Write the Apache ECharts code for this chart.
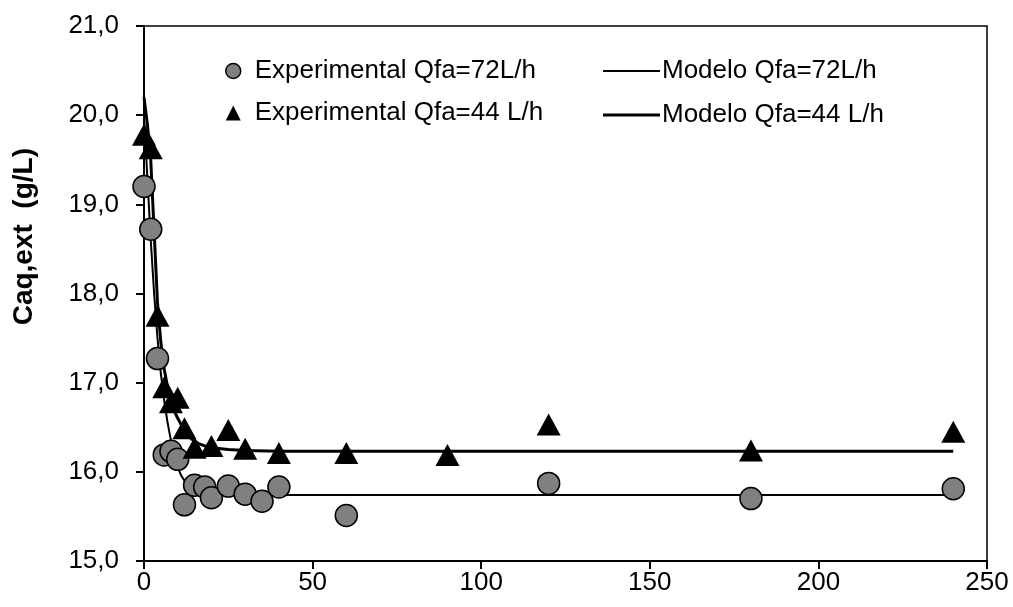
<!DOCTYPE html>
<html>
<head>
<meta charset="utf-8">
<script src="https://cdn.jsdelivr.net/npm/echarts@6/dist/echarts.min.js"></script>
<style>
html,body{margin:0;padding:0;background:#fff;}
#chart{width:1013px;height:607px;}
</style>
</head>
<body>
<div id="chart"></div>
<script>
// ---- data ----
var exp72 = [
  [0, 19.2], [2, 18.72], [4, 17.27], [6, 16.19], [8, 16.23], [10, 16.14],
  [12, 15.63], [15, 15.85], [18, 15.83], [20, 15.71], [25, 15.84], [30, 15.75],
  [35, 15.67], [40, 15.83], [60, 15.51], [120, 15.87], [180, 15.70], [240, 15.81]
];
var exp44 = [
  [0, 19.78], [2, 19.63], [4, 17.75], [6, 16.95], [8, 16.78], [10, 16.83],
  [12, 16.49], [15, 16.27], [20, 16.29], [25, 16.47], [30, 16.26], [40, 16.21],
  [60, 16.21], [90, 16.19], [120, 16.53], [180, 16.24], [240, 16.45]
];
var model72 = [
  [0, 20.0], [1, 19.3], [2, 18.6], [3, 18.0], [4, 17.5], [5, 17.1], [6, 16.8],
  [7, 16.55], [8, 16.35], [9, 16.18], [10, 16.05], [11, 15.96], [12, 15.9],
  [14, 15.82], [16, 15.78], [20, 15.75], [25, 15.74], [240, 15.74]
];
var model44 = [
  [0, 20.2], [1, 19.9], [2, 19.5], [3, 18.7], [4, 17.9], [5, 17.45], [6, 17.15],
  [7, 16.95], [8, 16.8], [9, 16.68], [10, 16.6], [12, 16.46], [14, 16.37],
  [16, 16.32], [18, 16.29], [20, 16.27], [25, 16.25], [30, 16.24], [40, 16.23], [240, 16.23]
];
var xTicks = [0, 50, 100, 150, 200, 250];
var yTicks = ['15,0', '16,0', '17,0', '18,0', '19,0', '20,0', '21,0'];
var names = ['Experimental Qfa=72L/h', 'Experimental Qfa=44 L/h', 'Modelo Qfa=72L/h', 'Modelo Qfa=44 L/h'];
var yTitle = 'Caq,ext  (g/L)';

var FONT = 'Liberation Sans, Arial, sans-serif';
var chart = echarts.init(document.getElementById('chart'), null, {renderer: 'canvas'});
chart.setOption({
  animation: false,
  backgroundColor: '#fff',
  grid: {left: 144, right: 26, top: 26, bottom: 46, show: true, borderColor: '#000', borderWidth: 1.5, backgroundColor: 'transparent'},
  xAxis: {
    type: 'value', min: xTicks[0], max: xTicks[xTicks.length - 1], interval: 50,
    axisLine: {show: true, onZero: false, lineStyle: {color: '#000', width: 2}},
    axisTick: {show: true, inside: false, length: 8, lineStyle: {color: '#000', width: 2}},
    axisLabel: {color: '#000', fontSize: 26, fontFamily: FONT, margin: 9},
    splitLine: {show: false}
  },
  yAxis: {
    type: 'value', min: 15, max: 21, interval: 1,
    axisLine: {show: true, onZero: false, lineStyle: {color: '#000', width: 2}},
    axisTick: {show: true, inside: false, length: 8, lineStyle: {color: '#000', width: 2}},
    axisLabel: {color: '#000', fontSize: 26, fontFamily: FONT, margin: 25,
      formatter: function (v) { return yTicks[Math.round(v - 15)]; }},
    splitLine: {show: false}
  },
  graphic: [{
    type: 'text', left: 10, top: 148, rotation: Math.PI / 2,
    style: {text: yTitle, font: 'bold 28px ' + FONT, fill: '#000'}
  }],
  legend: [{
    data: [
      {name: names[0], icon: 'circle', itemStyle: {color: '#808080', borderColor: '#000', borderWidth: 1.5}},
      {name: names[1], icon: 'triangle', itemStyle: {color: '#000'}}
    ],
    orient: 'vertical', left: 220, top: 53, itemWidth: 15, itemHeight: 15, itemGap: 16,
    textStyle: {fontSize: 26, fontFamily: FONT, color: '#000', padding: [0, 0, 0, 9]}
  }, {
    data: [{name: names[2], icon: 'rect'}],
    left: 598, top: 53, itemWidth: 57, itemHeight: 2,
    textStyle: {fontSize: 26, fontFamily: FONT, color: '#000', padding: [0, 0, 0, -3]}
  }, {
    data: [{name: names[3], icon: 'rect'}],
    left: 598, top: 97, itemWidth: 57, itemHeight: 3,
    textStyle: {fontSize: 26, fontFamily: FONT, color: '#000', padding: [0, 0, 0, -3]}
  }],
  series: [{
    name: names[2], type: 'line', data: model72, showSymbol: false, symbol: 'none',
    lineStyle: {color: '#000', width: 2}, itemStyle: {color: '#000'}, z: 2
  }, {
    name: names[3], type: 'line', data: model44, showSymbol: false, symbol: 'none',
    lineStyle: {color: '#000', width: 3}, itemStyle: {color: '#000'}, z: 2
  }, {
    name: names[0], type: 'scatter', data: exp72, symbol: 'circle', symbolSize: 22,
    itemStyle: {color: '#808080', borderColor: '#000', borderWidth: 1.5, opacity: 1}, z: 4
  }, {
    name: names[1], type: 'scatter', data: exp44, symbol: 'triangle', symbolSize: [24, 22],
    itemStyle: {color: '#000', opacity: 1}, z: 5
  }]
});
</script>
</body>
</html>
